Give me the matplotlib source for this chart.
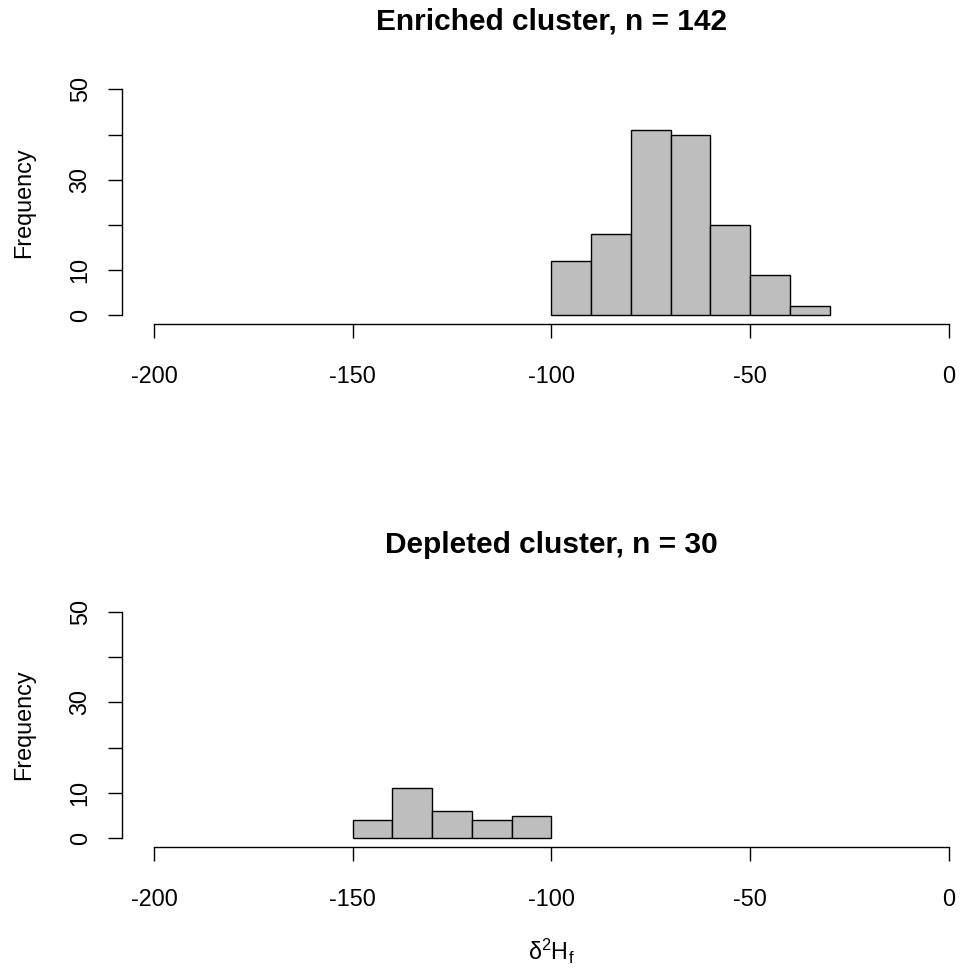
import numpy as np
import matplotlib
matplotlib.use("Agg")
import matplotlib.pyplot as plt

plt.rcParams['font.family'] = ['Liberation Sans', 'DejaVu Sans']
plt.rcParams['axes.unicode_minus'] = False
plt.rcParams['mathtext.fontset'] = 'custom'
plt.rcParams['mathtext.rm'] = 'Liberation Sans'
plt.rcParams['mathtext.it'] = 'Liberation Sans:italic'

# Histogram bins (delta 2H, per mil) and counts for each cluster
enriched_edges = [-100, -90, -80, -70, -60, -50, -40, -30]
enriched_counts = [12, 18, 41, 40, 20, 9, 2]
depleted_edges = [-150, -140, -130, -120, -110, -100]
depleted_counts = [4, 11, 6, 4, 5]

x_ticks = [-200, -150, -100, -50, 0]
y_ticks = [0, 10, 20, 30, 40, 50]
y_labels = ['0', '10', '', '30', '', '50']

W, H = 961, 975
FS = 16.8
fig = plt.figure(figsize=(W / 100, H / 100), dpi=100)

def px_axes(left, right, top, bottom):
    return fig.add_axes([left / W, 1 - bottom / H, (right - left) / W, (bottom - top) / H])

def draw_panel(ax, edges, counts, title, title_y):
    edges = np.asarray(edges, dtype=float)
    ax.bar(edges[:-1], counts, width=np.diff(edges), align='edge',
           color='#bebebe', edgecolor='black', linewidth=1.0)
    ax.set_xlim(-208, 8)
    ax.set_ylim(-2, 52)
    for s in ('top', 'right'):
        ax.spines[s].set_visible(False)
    ax.spines['bottom'].set_bounds(-200, 0)
    ax.spines['left'].set_bounds(0, 50)
    for s in ('bottom', 'left'):
        ax.spines[s].set_linewidth(1.0)
    ax.set_xticks(x_ticks)
    ax.set_xticklabels([str(v) for v in x_ticks])
    ax.set_yticks(y_ticks)
    ax.set_yticklabels(y_labels, rotation=90, va='center')
    ax.tick_params(axis='x', length=10, width=1.0, pad=19, labelsize=FS)
    ax.tick_params(axis='y', length=10, width=1.0, pad=12, labelsize=FS)
    ax.set_ylabel('Frequency', fontsize=FS, labelpad=24)
    ax.patch.set_alpha(0)
    fig.text(551.5 / W, 1 - title_y / H, title, ha='center', va='center',
             fontsize=21.5, fontweight='bold')

ax1 = px_axes(122.2, 980.7, 80.3, 324.3)
draw_panel(ax1, enriched_edges, enriched_counts, 'Enriched cluster, n = 142', 21)

ax2 = px_axes(122.2, 980.7, 602.6, 847.4)
draw_panel(ax2, depleted_edges, depleted_counts, 'Depleted cluster, n = 30', 545)

fig.text(551.5 / W, 1 - 951 / H, r'δ$^{2}$H$_{\mathrm{f}}$',
         ha='center', va='center', fontsize=FS)

fig.savefig('out.png', dpi=100, facecolor='white')
